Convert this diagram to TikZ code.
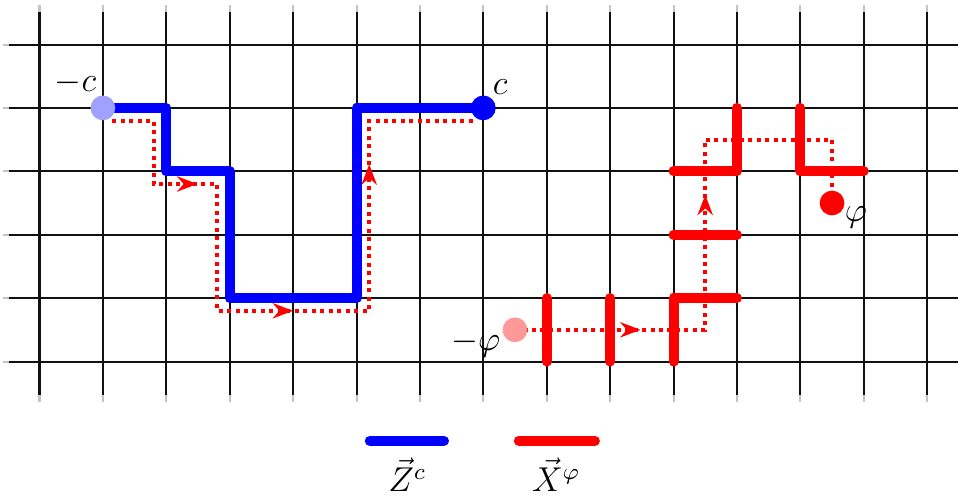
\documentclass[tikz,border=0pt]{standalone}
\usetikzlibrary{arrows.meta,decorations.markings}
\definecolor{cZ}{HTML}{0000FF}
\definecolor{cZL}{HTML}{A0A0FF}
\definecolor{cX}{HTML}{FF0000}
\definecolor{cXL}{HTML}{FF9999}
\definecolor{cGrid}{HTML}{111111}
\tikzset{
  gridline/.style={line width=0.9pt, draw=cGrid},
  gridfade/.style={line width=0.9pt, draw=cGrid!25},
  zpath/.style={line width=4.5pt, draw=cZ, line join=round, line cap=round},
  xbar/.style={line width=4.5pt, draw=cX, line join=round, line cap=round},
  trace/.style={draw=cX, line width=1.8pt, dotted},
  tipat/.style={postaction={decorate, decoration={markings,
      mark=at position #1 with {\arrow[cX]{Stealth[length=3.2mm, width=2.4mm]}}}}},
  dot/.style={circle, inner sep=0pt, minimum size=3.9mm, draw=none},
  lbl/.style={font=\large, scale=1.29, inner sep=1pt},
}
\begin{document}
\begin{tikzpicture}
\useasboundingbox (-0.623,-2.106) rectangle (14.487,5.702);
% lattice
\foreach \j in {0,...,5} {
  \draw[gridline] (-0.48,\j) -- (14.6,\j);
  \draw[gridfade] (-0.58,\j) -- (-0.48,\j);
}
\foreach \i in {0,...,14} {
  \draw[gridline] (\i,-0.53) -- (\i,5.51);
  \draw[gridfade] (\i,5.51) -- (\i,5.63);
  \draw[gridfade] (\i,-0.53) -- (\i,-0.64);
}
% Z^c string
\coordinate (zs) at (1,4);
\coordinate (ze) at (7,4);
\draw[zpath] (zs) -- (2,4) -- (2,3) -- (3,3) -- (3,1) -- (5,1) -- (5,4) -- (ze);
\draw[trace, tipat=0.2, tipat=0.5, tipat=0.8]
  (1.15,3.8) -- (1.8,3.8) -- (1.8,2.8) -- (2.8,2.8) -- (2.8,0.8)
  -- (5.2,0.8) -- (5.2,3.8) -- (6.85,3.8);
\node[dot, fill=cZL, label={[lbl, label distance=-3pt, yshift=2.5pt]140:$-c$}] (mc) at (zs) {};
\node[dot, fill=cZ, label={[lbl, label distance=-3pt, yshift=2.5pt, xshift=1pt]40:$c$}] (pc) at (ze) {};
% X^phi string
\coordinate (xs) at (7.5,0.5);
\coordinate (xe) at (12.5,2.5);
\draw[xbar] (8,0) -- (8,1);
\draw[xbar] (9,0) -- (9,1);
\draw[xbar] (10,0) -- (10,1) -- (11,1);
\draw[xbar] (10,2) -- (11,2);
\draw[xbar] (10,3) -- (11,3) -- (11,4);
\draw[xbar] (12,4) -- (12,3) -- (13,3);
\draw[trace, tipat=0.22, tipat=0.57]
  (xs) -- (10.5,0.5) -- (10.5,3.5) -- (12.5,3.5) -- (xe);
\node[dot, fill=cXL, label={[lbl, label distance=-1pt, yshift=1.5pt, xshift=-0.5pt]190:$-\varphi$}] (mphi) at (xs) {};
\node[dot, fill=cX, label={[lbl, label distance=-2pt, yshift=1pt, xshift=1pt]-25:$\varphi$}] (pphi) at (xe) {};
% legend
\draw[zpath] (5.21,-1.25) -- (6.38,-1.25);
\node[lbl] (zkey) at (5.8,-1.79) {$\vec Z^c$};
\draw[xbar] (7.56,-1.25) -- (8.76,-1.25);
\node[lbl] (xkey) at (8.15,-1.79) {$\vec X^\varphi$};
\end{tikzpicture}
\end{document}
